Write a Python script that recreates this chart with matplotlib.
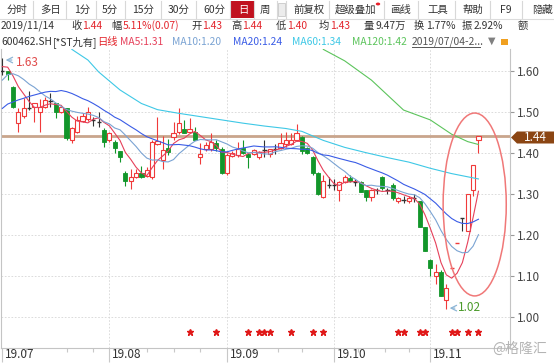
import numpy as np
import pandas as pd
import matplotlib
matplotlib.use('Agg')
import matplotlib.pyplot as plt
from matplotlib.patches import Rectangle, Ellipse, Polygon, Circle

plt.rcParams['font.family'] = ['Noto Sans CJK SC', 'DejaVu Sans']

# daily bars 2019/07/04 - 2019/11/14 (index 0 = 07/04)
opens = [1.60, 1.60, 1.56, 1.473, 1.49, 1.51, 1.512, 1.50, 1.511, 1.527,
         1.52, 1.50, 1.508, 1.431, 1.451, 1.478, 1.481, 1.48, 1.476, 1.455,
         1.431, 1.427, 1.404, 1.35, 1.332, 1.341, 1.35, 1.343, 1.341, 1.42,
         1.382, 1.411, 1.439, 1.45, 1.459, 1.451, 1.45, 1.389, 1.408, 1.41,
         1.423, 1.41, 1.35, 1.392, 1.394, 1.411, 1.398, 1.398, 1.39, 1.407,
         1.398, 1.408, 1.411, 1.42, 1.421, 1.431, 1.438, 1.411, 1.39, 1.35,
         1.293, 1.321, 1.321, 1.309, 1.329, 1.339, 1.329, 1.329, 1.309, 1.293,
         1.309, 1.341, 1.31, 1.321, 1.281, 1.285, 1.281, 1.289, 1.281, 1.219,
         1.138, 1.10, 1.11, 1.041, 1.12, 1.18, 1.24, 1.21, 1.31, 1.43]
highs = [1.63, 1.60, 1.562, 1.51, 1.533, 1.551, 1.52, 1.53, 1.537, 1.545,
         1.522, 1.515, 1.51, 1.463, 1.49, 1.497, 1.511, 1.487, 1.50, 1.46,
         1.45, 1.43, 1.405, 1.355, 1.36, 1.36, 1.367, 1.365, 1.43, 1.488,
         1.44, 1.433, 1.476, 1.51, 1.48, 1.484, 1.463, 1.423, 1.427, 1.449,
         1.43, 1.415, 1.40, 1.405, 1.427, 1.431, 1.40, 1.41, 1.405, 1.431,
         1.41, 1.42, 1.447, 1.45, 1.447, 1.47, 1.44, 1.415, 1.392, 1.352,
         1.345, 1.34, 1.335, 1.332, 1.345, 1.345, 1.335, 1.33, 1.31, 1.312,
         1.315, 1.342, 1.315, 1.325, 1.292, 1.295, 1.295, 1.30, 1.283, 1.22,
         1.14, 1.128, 1.113, 1.08, 1.12, 1.18, 1.24, 1.30, 1.37, 1.44]
lows = [1.59, 1.578, 1.51, 1.45, 1.484, 1.504, 1.476, 1.45, 1.51, 1.512,
        1.484, 1.498, 1.43, 1.423, 1.448, 1.475, 1.478, 1.465, 1.463, 1.415,
        1.425, 1.40, 1.377, 1.32, 1.311, 1.338, 1.338, 1.34, 1.335, 1.418,
        1.36, 1.395, 1.43, 1.445, 1.447, 1.448, 1.43, 1.372, 1.405, 1.405,
        1.405, 1.348, 1.345, 1.39, 1.39, 1.397, 1.362, 1.395, 1.385, 1.39,
        1.39, 1.398, 1.408, 1.415, 1.418, 1.428, 1.396, 1.398, 1.345, 1.298,
        1.29, 1.313, 1.31, 1.283, 1.325, 1.328, 1.32, 1.305, 1.281, 1.281,
        1.30, 1.31, 1.30, 1.285, 1.278, 1.278, 1.278, 1.28, 1.219, 1.16,
        1.10, 1.081, 1.05, 1.02, 1.12, 1.18, 1.21, 1.21, 1.295, 1.40]
closes = [1.60, 1.593, 1.512, 1.50, 1.51, 1.51, 1.52, 1.511, 1.529, 1.527,
          1.50, 1.511, 1.435, 1.46, 1.48, 1.489, 1.50, 1.48, 1.476, 1.425,
          1.447, 1.411, 1.39, 1.33, 1.341, 1.351, 1.341, 1.357, 1.427, 1.429,
          1.407, 1.402, 1.447, 1.472, 1.449, 1.459, 1.432, 1.398, 1.419, 1.427,
          1.411, 1.35, 1.395, 1.40, 1.408, 1.40, 1.389, 1.407, 1.402, 1.407,
          1.408, 1.408, 1.423, 1.431, 1.431, 1.447, 1.405, 1.40, 1.35, 1.30,
          1.33, 1.321, 1.321, 1.329, 1.341, 1.331, 1.329, 1.305, 1.291, 1.309,
          1.309, 1.313, 1.31, 1.289, 1.29, 1.285, 1.29, 1.289, 1.22, 1.16,
          1.12, 1.11, 1.05, 1.07, 1.12, 1.18, 1.24, 1.30, 1.37, 1.44]
# closes before 07/04, backed out from where the MA5/10/20 lines start
prior_close = [1.38, 1.41, 1.40, 1.43, 1.42, 1.45, 1.44, 1.46, 1.49, 1.51,
               1.46, 1.49, 1.55, 1.60, 1.62, 1.60, 1.62, 1.63, 1.60]

# long averages
ma60_idx = [13, 16, 18, 22, 26, 29, 33, 37, 41, 45, 49, 53, 56, 60, 64, 68, 72, 76, 80, 84, 89]
ma60_val = [1.652, 1.626, 1.597, 1.553, 1.52, 1.505, 1.496, 1.488, 1.48, 1.472, 1.465,
            1.459, 1.452, 1.43, 1.413, 1.40, 1.388, 1.377, 1.362, 1.349, 1.336]
ma120_idx = [60, 64, 69, 75, 80, 84, 87, 89]
ma120_val = [1.652, 1.624, 1.577, 1.504, 1.48, 1.445, 1.427, 1.42]

month_idx = [0, 20, 42, 62, 80]
month_labels = ['19.07', '19.08', '19.09', '19.10', '19.11']
star_idx = [35, 40, 46, 48, 49, 50, 54, 58, 60, 74, 75, 78, 79, 84, 85, 87, 89]

UP = '#f03a3a'
DOWN = '#12962a'
FLAT = '#333333'
C_MA5 = '#e6405a'
C_MA10 = '#7aa3d3'
C_MA20 = '#3a5ce6'
C_MA60 = '#3ec8e6'
C_MA120 = '#5cc45c'

W, H = 554, 363
fig = plt.figure(figsize=(W / 100, H / 100), dpi=100)


def fx(x):
    return x / W


def fy(y):
    return 1 - y / H


ax = fig.add_axes([fx(1), fy(348), (510 - 1) / W, (348 - 49) / H])
ax.set_xlim(-0.25, 94.9)
ax.set_ylim(0.9237, 1.6529)

# grid
for v in [1.0, 1.1, 1.2, 1.3, 1.4, 1.5, 1.6]:
    ax.axhline(v, color='#d6d6d6', lw=0.6, ls=(0, (2, 2)), zorder=0)
for m in month_idx[1:]:
    ax.axvline(m, color='#d6d6d6', lw=0.6, ls=(0, (2, 2)), zorder=0)

# last price line
ax.axhline(closes[-1], color='#c9a58c', lw=2.0, zorder=1)

# candles
bw = 0.78
for i in range(len(closes)):
    o, h, l, c = opens[i], highs[i], lows[i], closes[i]
    if c > o:
        ax.vlines(i, c, h, color=UP, lw=0.8, zorder=3)
        ax.vlines(i, l, o, color=UP, lw=0.8, zorder=3)
        ax.add_patch(Rectangle((i - bw / 2, o), bw, c - o, facecolor='white',
                               edgecolor=UP, lw=0.8, zorder=4))
    elif c < o:
        ax.vlines(i, l, h, color=DOWN, lw=0.8, zorder=3)
        ax.add_patch(Rectangle((i - bw / 2, c), bw, o - c, facecolor=DOWN,
                               edgecolor=DOWN, lw=0.6, zorder=4))
    else:
        col = FLAT
        if h == l:
            col = UP if c > closes[i - 1] else DOWN
        ax.vlines(i, l, h, color=col, lw=0.8, zorder=3)
        ax.hlines(c, i - bw / 2, i + bw / 2, color=col, lw=1.0, zorder=4)

# moving averages
full = pd.Series(prior_close + closes)
x = np.arange(len(closes))
n0 = len(prior_close)
for n, col in [(5, C_MA5), (10, C_MA10), (20, C_MA20)]:
    ma = full.rolling(n).mean().iloc[n0:].values
    ax.plot(x, ma, color=col, lw=0.8, zorder=5)
ax.plot(ma60_idx, ma60_val, color=C_MA60, lw=0.8, zorder=5)
ax.plot(ma120_idx, ma120_val, color=C_MA120, lw=0.8, zorder=5)

# high / low marks
ax.annotate('', xy=(0.1, 1.626), xytext=(2.3, 1.626),
            arrowprops=dict(arrowstyle='->', color='#8db6d6', lw=0.9), zorder=6)
ax.text(2.45, 1.621, '1.63', color='#e04a4a', fontsize=8.5, va='center', ha='left', zorder=6)
ax.annotate('', xy=(83.1, 1.021), xytext=(85.1, 1.021),
            arrowprops=dict(arrowstyle='->', color='#8db6d6', lw=0.9), zorder=6)
ax.text(85.2, 1.0225, '1.02', color='#4a9a2a', fontsize=8.5, va='center', ha='left', zorder=6)

# stars
ax.plot(star_idx, [0.962] * len(star_idx), ls='none', marker='*', ms=5,
        color='#e01818', mec='#e01818', zorder=6)

# red ellipse
ax.add_patch(Ellipse((88.3, 1.2737), 11.8, 0.446, fill=False,
                     edgecolor='#f07878', lw=1.1, zorder=7))

# axes styling
ax.spines['top'].set_visible(False)
for s in ['left', 'right', 'bottom']:
    ax.spines[s].set_color('#c4c4c4')
    ax.spines[s].set_linewidth(0.8)
ax.yaxis.tick_right()
ax.set_yticks([1.0, 1.1, 1.2, 1.3, 1.4, 1.5, 1.6])
ax.set_yticklabels(['1.00', '1.10', '1.20', '1.30', '1.40', '1.50', '1.60'])
ax.tick_params(axis='y', length=3, color='#999999', labelsize=8.5,
               labelcolor='#444444', pad=2)
ax.set_xticks(month_idx)
ax.set_xticklabels([])
ax.set_xticks([4.5, 12, 17, 27, 32, 37, 47, 51.5, 56, 66.5, 71.5, 76, 85], minor=True)
ax.tick_params(axis='x', which='major', length=10, color='#c8c8c8', width=0.8)
ax.tick_params(axis='x', which='minor', length=3, color='#c8c8c8', width=0.8)
for m, lab in zip(month_idx, month_labels):
    ax.annotate(lab, xy=(m, 0), xycoords=('data', 'axes fraction'),
                xytext=(2.5, -7), textcoords='offset pixels',
                ha='left', va='center', fontsize=8.5, color='#333333')

# price tag on right
tag = Polygon([(fx(511), fy(137.5)), (fx(517), fy(131.5)), (fx(554), fy(131.5)),
               (fx(554), fy(143.5)), (fx(517), fy(143.5))], closed=True,
              transform=fig.transFigure, facecolor='#8b4513', edgecolor='none')
fig.patches.append(tag)
fig.text(fx(535), fy(137.5), '1.44', color='white', fontsize=8.5, ha='center', va='center')

# toolbar row
DARK = '#333333'
RED = '#e3242b'
for sx in [33, 66, 96, 125, 161, 196, 230, 254, 277, 286, 329, 384, 418, 455, 490, 522]:
    fig.lines.append(plt.Line2D([fx(sx), fx(sx)], [fy(1), fy(18)], color='#d8d8d8',
                                lw=0.8, transform=fig.transFigure))
fig.lines.append(plt.Line2D([0, 1], [fy(18.5), fy(18.5)], color='#dcdcdc',
                            lw=0.8, transform=fig.transFigure))
fig.patches.append(Rectangle((fx(231), fy(18)), fx(23), 17 / H, transform=fig.transFigure,
                             facecolor='#c1121f', edgecolor='none'))
fig.patches.append(Rectangle((fx(278), fy(16)), fx(7), 13 / H, transform=fig.transFigure,
                             facecolor='#ececec', edgecolor='#c8c8c8', lw=0.6))
fig.patches.append(Circle((fx(378), fy(4)), 2.2 / W, transform=fig.transFigure,
                          facecolor='#e8202a', edgecolor='none'))
tool_items = [(7, '分时'), (40, '多日'), (74, '1分'), (102, '5分'), (132, '15分'),
              (168, '30分'), (203, '60分'), (260, '周'), (293, '前复权'),
              (335, '超级叠加'), (390, '画线'), (427, '工具'), (462, '帮助'),
              (500, 'F9'), (532, '隐藏')]
for tx, t in tool_items:
    fig.text(fx(tx), fy(10), t, fontsize=7.5, color=DARK, ha='left', va='center')
fig.text(fx(238), fy(10), '日', fontsize=7.5, color='white', ha='left', va='center')

# quote row
quote_items = [(1, '2019/11/14', DARK), (71, '收', DARK), (82, '1.44', RED),
               (111, '幅', DARK), (123, '5.11%(0.07)', RED), (191, '开', DARK),
               (202, '1.43', RED), (231, '高', DARK), (242, '1.44', RED),
               (276, '低', DARK), (287, '1.40', RED), (319, '均', DARK),
               (330, '1.43', RED), (363, '量', DARK), (376, '9.47万', DARK),
               (414, '换', DARK), (426, '1.77%', DARK), (462, '振', DARK),
               (474, '2.92%', DARK), (518, '额', DARK)]
for tx, t, col in quote_items:
    fig.text(fx(tx), fy(25.7), t, fontsize=7.4, color=col, ha='left', va='center')

# MA legend row
legend_items = [(1, '600462.SH', DARK), (53, '[*ST九有]', DARK), (97, '日线', RED),
                (120, 'MA5:1.31', C_MA5), (172, 'MA10:1.20', C_MA10),
                (233, 'MA20:1.24', C_MA20), (292, 'MA60:1.34', C_MA60),
                (352, 'MA120:1.42', C_MA120), (412, '2019/07/04-2...', '#555555')]
for tx, t, col in legend_items:
    fig.text(fx(tx), fy(41.7), t, fontsize=7.4, color=col, ha='left', va='center')
fig.lines.append(plt.Line2D([fx(412), fx(480)], [fy(47), fy(47)], color='#555555',
                            lw=0.7, transform=fig.transFigure))
fig.text(fx(488), fy(41), '▼', fontsize=7, color='#808080', ha='left', va='center',
         family=['DejaVu Sans'])
fig.patches.append(Rectangle((fx(501), fy(45)), fx(7), 6 / H, transform=fig.transFigure,
                             facecolor='#f0a020', edgecolor='none'))

# watermark
fig.text(fx(547), fy(349), '@格隆汇', fontsize=10, color='#b4b4b4', ha='right', va='center')

fig.savefig('out.png', dpi=100)
